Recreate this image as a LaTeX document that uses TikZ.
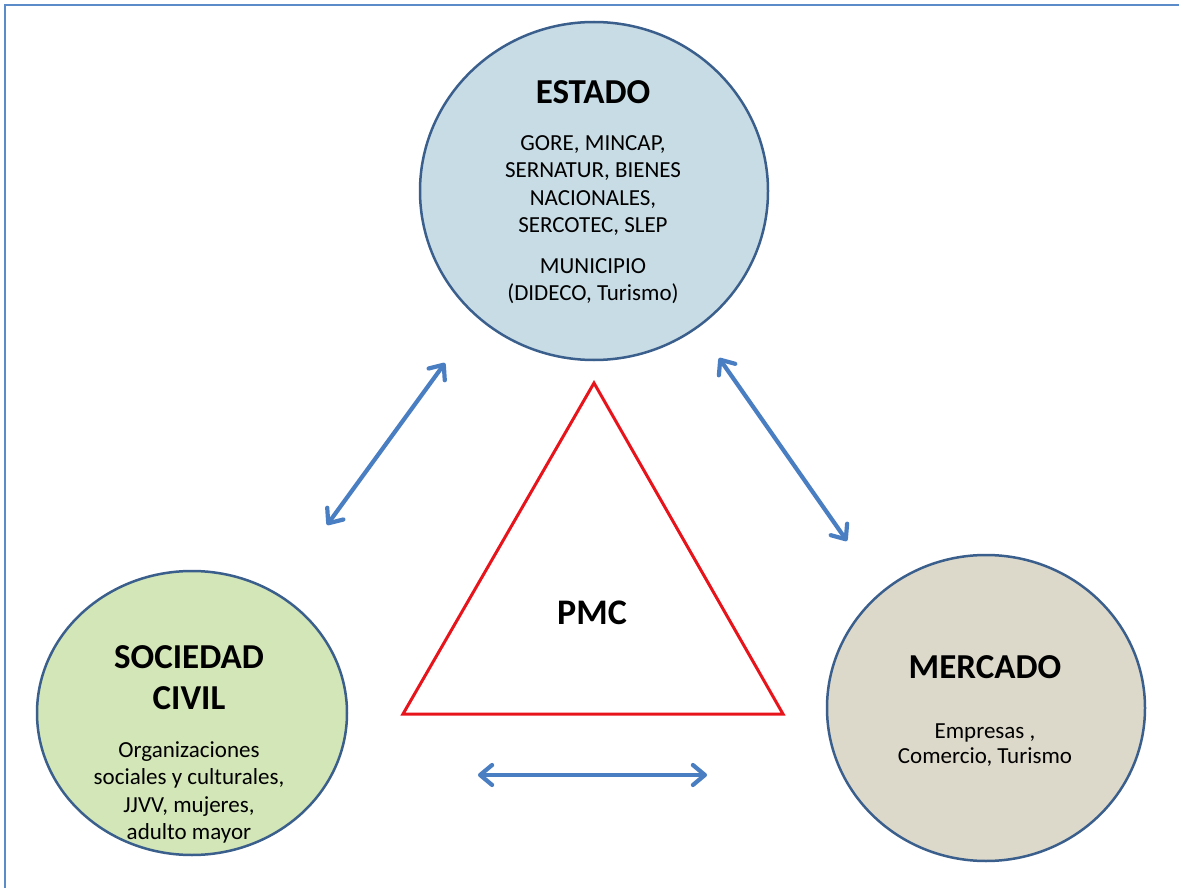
\documentclass[tikz,border=0pt]{standalone}
\usepackage{fontspec}
\setmainfont{Carlito}
\usetikzlibrary{shapes.geometric,arrows.meta}
\definecolor{frameblue}{HTML}{5B8BC9}
\definecolor{arrowblue}{HTML}{4A7EC2}
\definecolor{ringblue}{HTML}{3B5F8C}
\definecolor{estadofill}{HTML}{C8DCE5}
\definecolor{civilfill}{HTML}{D3E6B8}
\definecolor{mercadofill}{HTML}{DDD9CA}
\definecolor{trired}{HTML}{E8141B}
\begin{document}
\begin{tikzpicture}[x=1pt,y=-1pt,
  actor/.style={ellipse, draw=ringblue, line width=2.5pt, inner sep=0pt},
  titletext/.style={font=\bfseries\fontsize{35}{41}\selectfont, align=center, inner sep=0pt},
  bodytext/.style={font=\fontsize{23}{27.5}\selectfont, align=center, inner sep=0pt},
  link/.style={draw=arrowblue, line width=4.2pt, line cap=round,
    {Straight Barb[length=12pt,width=20pt,line cap=round,line join=round]}-{Straight Barb[length=12pt,width=20pt,line cap=round,line join=round]}}
]
\useasboundingbox (0,0) rectangle (1179,888);
\fill[white] (0,0) rectangle (1179,888);
% frame (only top and left edges visible)
\draw[frameblue, line width=2.5pt] (5,888) -- (5,5) -- (1179,5);

% actors
\node[actor, fill=estadofill, minimum width=348pt, minimum height=338pt] (estado) at (594,191) {};
\node[actor, fill=civilfill, minimum width=310pt, minimum height=284pt] (civil) at (192,713) {};
\node[actor, fill=mercadofill, minimum width=318pt, minimum height=306pt] (mercado) at (986,708) {};

% texts
\node[titletext] (estadoT) at (593,92) {ESTADO};
\node[bodytext] (estadoA) at (593,185.5) {GORE, MINCAP,\\SERNATUR, BIENES\\NACIONALES,\\SERCOTEC, SLEP};
\node[bodytext] (estadoB) at (593,281) {MUNICIPIO\\(DIDECO, Turismo)};

\node[titletext] (civilT) at (189,677.5) {SOCIEDAD\\CIVIL};
\node[bodytext] (civilB) at (189,792.5) {Organizaciones\\sociales y culturales,\\JJVV, mujeres,\\adulto mayor};

\node[titletext] (mercadoT) at (985,667) {MERCADO};
\node[bodytext, font=\fontsize{23}{25}\selectfont] (mercadoB) at (985,745) {Empresas ,\\Comercio, Turismo};

% triangle
\coordinate (tA) at (594,383);
\coordinate (tB) at (403,714);
\coordinate (tC) at (783,714);
\draw[trired, line width=3pt, line join=miter] (tA) -- (tB) -- (tC) -- cycle;
\node[titletext, font=\bfseries\fontsize{36}{41}\selectfont] (pmc) at (592,613) {PMC};

% arrows
\coordinate (l1) at (327,525);
\coordinate (l2) at (445,363);
\coordinate (r1) at (719,358);
\coordinate (r2) at (847,541);
\coordinate (b1) at (478,775);
\coordinate (b2) at (707,775);
\draw[link] (l1) -- (l2);
\draw[link] (r1) -- (r2);
\draw[link] (b1) -- (b2);
\end{tikzpicture}
\end{document}
